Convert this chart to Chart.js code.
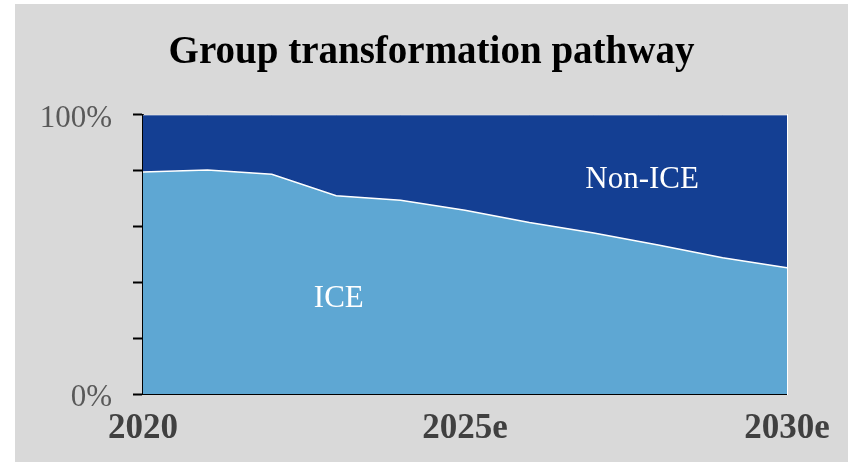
<!DOCTYPE html>
<html>
<head>
<meta charset="utf-8">
<script src="https://cdn.jsdelivr.net/npm/chart.js@4"></script>
<style>
  html, body { margin: 0; padding: 0; background: #ffffff; }
  #frame { position: absolute; left: 15px; top: 4px; width: 833px; height: 458px; background: #d9d9d9; }
  #wrap { position: absolute; left: 0; top: 0; width: 853px; height: 462px; }
</style>
</head>
<body>
<div id="frame"></div>
<div id="wrap"><canvas id="pathwayChart"></canvas></div>
<script>
const years = ['2020', '2021', '2022', '2023', '2024', '2025e', '2026e', '2027e', '2028e', '2029e', '2030e'];
const shownYears = ['2020', '2025e', '2030e'];
// ICE share of the group, in percent
const iceShare = [79.5, 80.2, 78.7, 71.0, 69.4, 65.8, 61.4, 57.7, 53.4, 48.8, 45.2];
const nonIceShare = iceShare.map(v => 100 - v);
const yTicks = ['0%', '100%'];

const areaLabels = {
    id: 'areaLabels',
    afterDatasetsDraw(chart) {
        const { ctx, scales } = chart;
        ctx.save();
        ctx.fillStyle = '#ffffff';
        ctx.font = '31px "Liberation Serif"';
        ctx.textAlign = 'center';
        ctx.textBaseline = 'middle';
        ctx.fillText('ICE', scales.x.getPixelForValue(3.04), scales.y.getPixelForValue(34));
        ctx.fillText('Non-ICE', scales.x.getPixelForValue(7.75), scales.y.getPixelForValue(76.6));
        ctx.restore();
    }
};

document.addEventListener('DOMContentLoaded', () => {
    const ctx = document.getElementById('pathwayChart').getContext('2d');
    new Chart(ctx, {
        type: 'line',
        data: {
            labels: years,
            datasets: [
                {
                    label: 'ICE',
                    data: iceShare,
                    backgroundColor: '#5ea7d3',
                    borderColor: '#ffffff',
                    borderWidth: 1.5,
                    fill: 'origin',
                    tension: 0,
                    pointRadius: 0
                },
                {
                    label: 'Non-ICE',
                    data: nonIceShare,
                    backgroundColor: '#143f93',
                    borderColor: '#ffffff',
                    borderWidth: 1,
                    fill: '-1',
                    tension: 0,
                    pointRadius: 0
                }
            ]
        },
        options: {
            responsive: true,
            maintainAspectRatio: false,
            animation: false,
            layout: { padding: { left: 15, right: 5, top: 4, bottom: 0 } },
            plugins: {
                legend: { display: false },
                tooltip: { enabled: false },
                title: {
                    display: true,
                    text: 'Group transformation pathway',
                    color: '#000000',
                    font: { family: '"Liberation Serif"', size: 39, weight: 'bold' },
                    padding: { top: 26, bottom: 38 }
                }
            },
            scales: {
                x: {
                    z: 1,
                    offset: false,
                    grid: { display: false, drawTicks: false },
                    border: { display: true, color: '#000000', width: 2 },
                    ticks: {
                        autoSkip: false,
                        maxRotation: 0,
                        padding: 14,
                        color: '#404040',
                        font: { family: '"Liberation Serif"', size: 35, weight: 'bold' },
                        callback: (v, i) => shownYears.includes(years[i]) ? years[i] : ''
                    },
                    afterFit: s => { s.height = 68; }
                },
                y: {
                    z: 1,
                    stacked: true,
                    min: 0,
                    max: 100,
                    grid: { drawOnChartArea: false, drawTicks: true, tickLength: 10, tickWidth: 2, color: '#000000' },
                    border: { display: true, color: '#000000', width: 2 },
                    ticks: {
                        stepSize: 20,
                        padding: 21,
                        labelOffset: 4,
                        color: '#595959',
                        font: { family: '"Liberation Serif"', size: 31 },
                        callback: v => (v === 0 ? yTicks[0] : v === 100 ? yTicks[1] : '')
                    },
                    afterFit: s => { s.width = 128; }
                },
                yRight: {
                    position: 'right',
                    grid: { display: false },
                    ticks: { display: false },
                    border: { display: true, color: '#ffffff', width: 1 },
                    afterFit: s => { s.width = 61; }
                }
            }
        },
        plugins: [areaLabels]
    });
});
</script>
</body>
</html>
